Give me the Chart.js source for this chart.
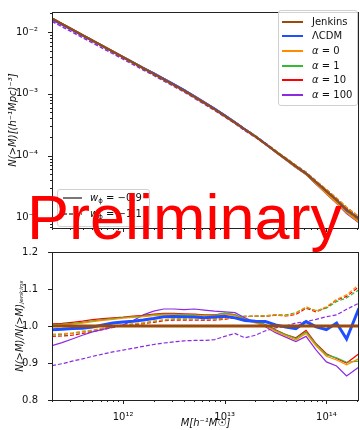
<!DOCTYPE html>
<html>
<head>
<meta charset="utf-8">
<script src="https://cdn.jsdelivr.net/npm/chart.js@4.4.1/dist/chart.umd.min.js"></script>
<style>
body { margin: 0; background: #fff; }
#wrap { position: relative; width: 360px; height: 430px; overflow: hidden; font-family: "DejaVu Sans", sans-serif; color: #111; }
canvas { position: absolute; left: 0; }
#massChart { top: 0; }
#ratioChart { top: 240px; }
.legend { position: absolute; background: rgba(255,255,255,0.8); border: 1px solid #d0d0d0; border-radius: 3px; font-size: 10px; }
.row { position: absolute; left: 0; height: 14px; line-height: 14px; white-space: nowrap; }
.swatch { position: absolute; top: 6px; height: 2px; }
.row span { position: absolute; top: 0; }
.row sub { font-size: 70%; vertical-align: -2px; line-height: 0; }
.prelim { position: absolute; left: 27px; top: 186px; font: 63px "Liberation Sans", Arial, sans-serif; line-height: 1; color: #ff0000; white-space: nowrap; }
</style>
</head>
<body>
<div id="wrap">
  <canvas id="massChart" width="360" height="240"></canvas>
  <canvas id="ratioChart" width="360" height="190"></canvas>
  <div class="legend" id="modelLegend" style="left:278px;top:10px;width:78px;height:94px;"></div>
  <div class="legend" id="wLegend" style="left:57px;top:189px;width:91px;height:36px;"></div>
  <div class="prelim">Preliminary</div>
</div>
<script>
// halo mass bins, M [h^-1 Msun]
const massBins = [2.0e11, 2.51e11, 3.16e11, 3.98e11, 5.01e11, 6.31e11, 7.94e11,
  1.0e12, 1.26e12, 1.58e12, 2.0e12, 2.51e12, 3.16e12, 3.98e12, 5.01e12, 6.31e12, 7.94e12,
  1.0e13, 1.26e13, 1.58e13, 2.0e13, 2.51e13, 3.16e13, 3.98e13, 5.01e13, 6.31e13, 7.94e13,
  1.0e14, 1.26e14, 1.58e14, 2.09e14];

// Jenkins cumulative mass function N(>M) [(h^-1 Mpc)^-3]
const nJenkins = [1.66e-2, 1.35e-2, 1.10e-2, 8.91e-3, 7.24e-3, 5.89e-3, 4.79e-3,
  3.89e-3, 3.16e-3, 2.57e-3, 2.09e-3, 1.70e-3, 1.38e-3, 1.12e-3, 8.91e-4, 7.08e-4, 5.62e-4,
  4.37e-4, 3.39e-4, 2.63e-4, 2.04e-4, 1.55e-4, 1.17e-4, 8.91e-5, 6.76e-5, 5.13e-5, 3.72e-5,
  2.69e-5, 1.91e-5, 1.35e-5, 9.3e-6];

// ratios N(>M)/N(>M)_jenkins
const ratioLCDM = [0.990, 0.991, 0.993, 0.994, 0.997, 1.003, 1.008, 1.011, 1.013, 1.016, 1.020,
  1.025, 1.026, 1.025, 1.024, 1.022, 1.024, 1.026, 1.022, 1.015, 1.013, 1.012, 1.003, 0.997,
  0.993, 1.012, 0.998, 0.990, 1.008, 0.965, 1.048];

// w_phi = -0.9 (solid)
const ratioA0w09 = [1.002, 1.003, 1.005, 1.008, 1.012, 1.015, 1.018, 1.021, 1.023, 1.025, 1.028,
  1.030, 1.030, 1.029, 1.028, 1.027, 1.027, 1.032, 1.028, 1.016, 1.008, 1.001, 0.985, 0.974,
  0.962, 0.980, 0.946, 0.918, 0.908, 0.895, 0.912];
const ratioA1w09 = [1.004, 1.005, 1.007, 1.010, 1.014, 1.017, 1.020, 1.023, 1.025, 1.027, 1.030,
  1.032, 1.032, 1.031, 1.030, 1.029, 1.029, 1.035, 1.031, 1.019, 1.011, 1.004, 0.988, 0.977,
  0.966, 0.984, 0.950, 0.922, 0.914, 0.902, 0.905];
const ratioA10w09 = [1.006, 1.007, 1.010, 1.013, 1.017, 1.020, 1.022, 1.024, 1.027, 1.029, 1.032,
  1.034, 1.034, 1.033, 1.032, 1.030, 1.030, 1.034, 1.030, 1.017, 1.012, 1.004, 0.990, 0.977,
  0.968, 0.988, 0.952, 0.925, 0.912, 0.900, 0.925];
const ratioA100w09 = [0.947, 0.955, 0.965, 0.975, 0.984, 0.991, 0.997, 1.003, 1.015, 1.030, 1.040,
  1.046, 1.046, 1.044, 1.046, 1.043, 1.040, 1.038, 1.036, 1.022, 1.010, 0.998, 0.982, 0.970,
  0.958, 0.972, 0.935, 0.903, 0.892, 0.865, 0.889];

// w_phi = -1.1 (dashed)
const ratioA0w11 = [0.978, 0.979, 0.981, 0.986, 0.989, 0.994, 0.999, 1.003, 1.006, 1.009, 1.013,
  1.017, 1.019, 1.019, 1.018, 1.017, 1.018, 1.020, 1.023, 1.026, 1.027, 1.027, 1.030, 1.028,
  1.034, 1.052, 1.040, 1.052, 1.072, 1.084, 1.112];
const ratioA1w11 = [0.976, 0.977, 0.980, 0.984, 0.988, 0.993, 0.998, 1.002, 1.005, 1.008, 1.012,
  1.016, 1.018, 1.018, 1.018, 1.017, 1.019, 1.021, 1.024, 1.027, 1.026, 1.028, 1.031, 1.030,
  1.036, 1.050, 1.042, 1.048, 1.066, 1.076, 1.098];
const ratioA10w11 = [0.972, 0.973, 0.975, 0.980, 0.985, 0.990, 0.996, 1.001, 1.004, 1.006, 1.010,
  1.014, 1.016, 1.016, 1.016, 1.015, 1.016, 1.018, 1.022, 1.025, 1.027, 1.026, 1.029, 1.027,
  1.031, 1.048, 1.038, 1.050, 1.070, 1.080, 1.106];
const ratioA100w11 = [0.893, 0.898, 0.905, 0.911, 0.918, 0.924, 0.930, 0.935, 0.940, 0.945, 0.950,
  0.954, 0.957, 0.960, 0.961, 0.961, 0.963, 0.972, 0.980, 0.968, 0.975, 0.987, 0.995, 1.000,
  1.008, 1.012, 1.018, 1.025, 1.030, 1.045, 1.062];

const xMajors = [1e12, 1e13, 1e14];
const xTickLabels = ['10¹²', '10¹³', '10¹⁴'];
const yMajors = [1e-5, 1e-4, 1e-3, 1e-2];
const yTickLabels = ['10⁻⁵', '10⁻⁴', '10⁻³', '10⁻²'];
const ratioTicks = [0.8, 0.9, 1.0, 1.1, 1.2];

const modelLabels = ['Jenkins', 'ΛCDM', '<i>α</i> = 0', '<i>α</i> = 1', '<i>α</i> = 10', '<i>α</i> = 100'];
const modelColors = ['#9a4a0a', '#1f4fff', '#ff8c00', '#33bb33', '#ff0000', '#8a2be2'];
const wLabels = ['<i>w</i><sub>ϕ</sub> = −0.9', '<i>w</i><sub>ϕ</sub> = −1.1'];

const X_MIN = 2.0e11, X_MAX = 2.09e14;
const Y_MIN = 6.8e-6, Y_MAX = 2.1e-2;

const alphaSeries = [
  { ratio: ratioA0w09, color: modelColors[2], dash: [] },
  { ratio: ratioA1w09, color: modelColors[3], dash: [] },
  { ratio: ratioA10w09, color: modelColors[4], dash: [] },
  { ratio: ratioA100w09, color: modelColors[5], dash: [] },
  { ratio: ratioA0w11, color: modelColors[2], dash: [4, 2] },
  { ratio: ratioA1w11, color: modelColors[3], dash: [4, 2] },
  { ratio: ratioA10w11, color: modelColors[4], dash: [4, 2] },
  { ratio: ratioA100w11, color: modelColors[5], dash: [4, 2] }
];

function pts(values) {
  return massBins.map((m, i) => ({ x: m, y: values[i] }));
}
function scaled(ratio) {
  return nJenkins.map((n, i) => n * ratio[i]);
}
function line(data, color, width, dash) {
  return { data: pts(data), borderColor: color, borderWidth: width, borderDash: dash || [],
    pointRadius: 0, tension: 0, fill: false };
}

function logTicks(min, max) {
  const out = [];
  for (let e = Math.floor(Math.log10(min)); e <= Math.ceil(Math.log10(max)); e++) {
    for (let k = 1; k <= 9; k++) {
      const v = k * Math.pow(10, e);
      if (v >= min && v <= max) out.push({ value: v, major: k === 1 });
    }
  }
  return out;
}
function majorLabel(value, majors, labels) {
  const i = majors.findIndex(m => Math.abs(value / m - 1) < 1e-6);
  return i < 0 ? '' : labels[i];
}

// box frame and matplotlib-like outward ticks
const frameAndTicks = {
  id: 'frameAndTicks',
  afterDraw(chart) {
    const { ctx, chartArea: a } = chart;
    ctx.save();
    ctx.strokeStyle = '#222';
    ctx.lineWidth = 1;
    ctx.beginPath();
    const xs = chart.scales.x, ys = chart.scales.y;
    xs.ticks.forEach(t => {
      const p = Math.round(xs.getPixelForValue(t.value)) + 0.5;
      if (p < a.left || p > a.right) return;
      ctx.moveTo(p, a.bottom);
      ctx.lineTo(p, a.bottom + (t.major ? 4 : 2));
    });
    ys.ticks.forEach(t => {
      const p = Math.round(ys.getPixelForValue(t.value)) + 0.5;
      ctx.moveTo(a.left, p);
      ctx.lineTo(a.left - (t.major ? 4 : 2), p);
    });
    ctx.stroke();
    ctx.strokeRect(Math.round(a.left) + 0.5, Math.round(a.top) + 0.5,
      Math.round(a.right - a.left) - 1, Math.round(a.bottom - a.top));
    ctx.restore();
  }
};

const tickFont = { family: 'DejaVu Sans', size: 10 };
const titleFont = { family: 'DejaVu Sans', size: 10, style: 'italic' };

const xLog = (showLabels) => ({
  type: 'logarithmic', min: X_MIN, max: X_MAX,
  grid: { display: false },
  border: { display: false },
  afterBuildTicks: s => { s.ticks = logTicks(X_MIN, X_MAX); },
  ticks: { autoSkip: false, maxRotation: 0, padding: 3, color: '#111', font: tickFont,
    callback: (v, i, ticks) => showLabels && ticks[i].major ? majorLabel(v, xMajors, xTickLabels) : '' }
});

// top: cumulative mass function
const massDatasets = [
  line(nJenkins, modelColors[0], 2),
  line(scaled(ratioLCDM), modelColors[1], 2)
].concat(alphaSeries.map(s => line(scaled(s.ratio), s.color, 1.5, s.dash)));

new Chart(document.getElementById('massChart'), {
  type: 'line',
  data: { datasets: massDatasets },
  plugins: [frameAndTicks],
  options: {
    responsive: false, animation: false, devicePixelRatio: 1,
    layout: { padding: { top: 6, right: 1, left: 0, bottom: 0 } },
    plugins: { legend: { display: false }, tooltip: { enabled: false } },
    scales: {
      x: Object.assign(xLog(false), { afterFit: s => { s.height = 8; } }),
      y: {
        type: 'logarithmic', min: Y_MIN, max: Y_MAX,
        grid: { display: false }, border: { display: false },
        afterBuildTicks: s => { s.ticks = logTicks(Y_MIN, Y_MAX); },
        afterFit: s => { s.width = 52; },
        ticks: { autoSkip: false, padding: 6, color: '#111', font: tickFont,
          callback: (v, i, ticks) => ticks[i].major ? majorLabel(v, yMajors, yTickLabels) : '' },
        title: { display: true, text: 'N(>M)[(h⁻¹Mpc)⁻³]', color: '#111', font: titleFont,
          padding: { top: 7, bottom: 0 } }
      }
    }
  }
});

// bottom: ratio to Jenkins
const ratioDatasets = [
  line(massBins.map(() => 1.0), modelColors[0], 3),
  line(ratioLCDM, modelColors[1], 3)
].concat(alphaSeries.map(s => line(s.ratio, s.color, 1.2, s.dash)));

new Chart(document.getElementById('ratioChart'), {
  type: 'line',
  data: { datasets: ratioDatasets },
  plugins: [frameAndTicks],
  options: {
    responsive: false, animation: false, devicePixelRatio: 1,
    layout: { padding: { top: 10, right: 1, left: 0, bottom: 0 } },
    plugins: { legend: { display: false }, tooltip: { enabled: false } },
    scales: {
      x: Object.assign(xLog(true), {
        afterFit: s => { s.height = 30; },
        title: { display: true, text: 'M[h⁻¹M☉]', color: '#111', font: titleFont,
          padding: { top: 0, bottom: 1 } }
      }),
      y: {
        type: 'linear', min: 0.8, max: 1.2,
        grid: { display: false }, border: { display: false },
        afterBuildTicks: s => { s.ticks = ratioTicks.map(v => ({ value: v, major: true })); },
        afterFit: s => { s.width = 52; },
        ticks: { padding: 6, color: '#111', font: tickFont, callback: v => v.toFixed(1) },
        title: { display: true, text: 'N(>M)/N(>M)ⱼₑₙₖᵢₙₛ', color: '#111', font: titleFont,
          padding: { top: 14, bottom: 0 } }
      }
    }
  }
});

// legends
function addRow(box, top, label, color, dash, sampleLeft, sampleWidth, textLeft) {
  const row = document.createElement('div');
  row.className = 'row';
  row.style.top = top + 'px';
  row.style.width = '100%';
  const sw = document.createElement('div');
  sw.className = 'swatch';
  sw.style.left = sampleLeft + 'px';
  sw.style.width = sampleWidth + 'px';
  sw.style.background = dash
    ? 'repeating-linear-gradient(90deg, ' + color + ' 0 4px, transparent 4px 6px)'
    : color;
  const txt = document.createElement('span');
  txt.style.left = textLeft + 'px';
  txt.innerHTML = label;
  row.appendChild(sw);
  row.appendChild(txt);
  box.appendChild(row);
}
const modelBox = document.getElementById('modelLegend');
modelLabels.forEach((lab, i) => addRow(modelBox, 3.5 + i * 14.7, lab, modelColors[i], false, 3, 21, 33));
const wBox = document.getElementById('wLegend');
wLabels.forEach((lab, i) => addRow(wBox, 1 + i * 16, lab, '#777', i === 1, 5, 19, 32));
</script>
</body>
</html>
